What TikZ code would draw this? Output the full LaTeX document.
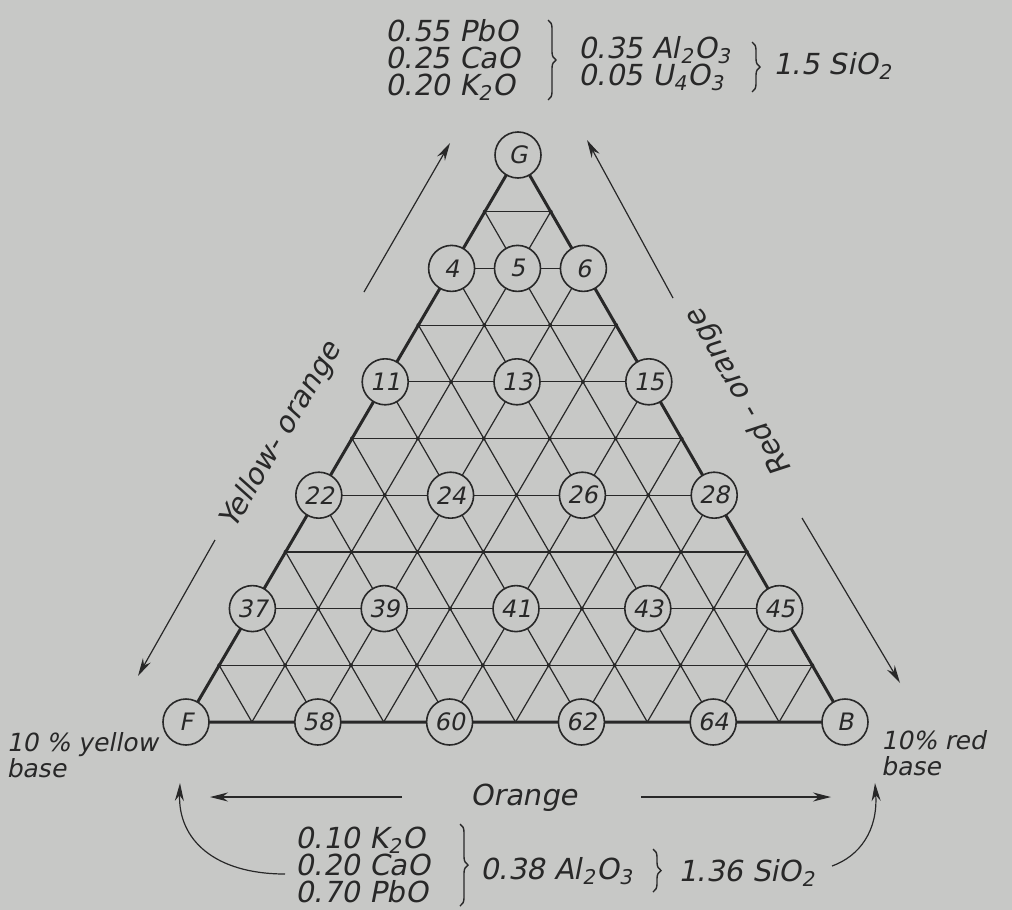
\documentclass[tikz,border=0pt]{standalone}
\usepackage{fontspec}
\newfontfamily\handfont{DejaVu Sans}[FakeSlant=0.2]
\usetikzlibrary{positioning,arrows.meta,decorations.pathreplacing}
\definecolor{paper}{RGB}{199,200,198}
\definecolor{ink}{RGB}{40,40,40}
\newcommand{\chemsub}[1]{\textsubscript{#1}}
\tikzset{
  hand/.style={font=\handfont\fontsize{14.5}{13.5}\selectfont, text=ink, inner sep=0pt},
  small hand/.style={hand, font=\handfont\fontsize{12.5}{13}\selectfont},
  mix/.style={circle, draw=ink, line width=0.8pt, fill=paper, minimum size=23pt, inner sep=0pt,
    font=\handfont\fontsize{12}{12}\selectfont, text=ink},
  grid line/.style={ink, line width=0.6pt},
  rim/.style={ink, line width=1.5pt, line join=round},
  arr/.style={ink, line width=0.6pt, -{Stealth[length=9pt,width=4.5pt]}},
  curly/.style={ink, line width=0.7pt, decorate, decoration={brace, amplitude=4pt}}
}
\begin{document}
\begin{tikzpicture}[x=0.5pt, y=-0.5pt, node distance=2.5cm]
\fill[paper] (0,0) rectangle (1012,910);
\useasboundingbox (0,0) rectangle (1012,910);

\foreach \i in {0,...,10}
  \foreach \j in {0,...,\i}
    \coordinate (p\i-\j) at ({518-33.2*\i+65.9*\j}, {155+56.7*\i});

\foreach \k [evaluate=\k as \m using int(10-\k)] in {1,...,9} {
  \draw[grid line] (p\k-0) -- (p\k-\k);
  \draw[grid line] (p\k-\k) -- (p10-\k);
  \draw[grid line] (p\k-0) -- (p10-\m);
}
\foreach \i in {1,...,9}
  \foreach \j in {0,...,\i}
    \fill[ink] (p\i-\j) circle (2);
\draw[rim] (p0-0) -- (p10-0) -- (p10-10) -- cycle;

\foreach \i/\j/\lab in {0/0/G, 2/0/4, 2/1/5, 2/2/6, 4/0/11, 4/2/13, 4/4/15,
    6/0/22, 6/2/24, 6/4/26, 6/6/28, 8/0/37, 8/2/39, 8/4/41, 8/6/43, 8/8/45,
    10/0/F, 10/2/58, 10/4/60, 10/6/62, 10/8/64, 10/10/B}
  \node[mix] (n\lab) at (p\i-\j) {\lab};

% top glaze
\node[hand, align=left, anchor=west] (topflux) at (385,60)
  {0.55 PbO\\0.25 CaO\\0.20 K\chemsub{2}O};
\draw[curly] (548,20) -- (548,100);
\node[hand, align=left, anchor=west] (topalu) at (578,64)
  {0.35 Al\chemsub{2}O\chemsub{3}\\0.05 U\chemsub{4}O\chemsub{3}};
\draw[curly] (752,42) -- (752,92);
\node[hand, anchor=west] (topsil) at (773,66) {1.5 SiO\chemsub{2}};

% sides
\node[hand, rotate=59.5] (yellow) at (281,436) {Yellow- orange};
\node[hand, rotate=119.5] (red) at (740,392) {Red - orange};
\coordinate (ya) at (364,292);
\coordinate (yb) at (450,143);
\coordinate (yc) at (215,540);
\coordinate (yd) at (138,676);
\coordinate (ra) at (673,298);
\coordinate (rb) at (587,140);
\coordinate (rc) at (802,518);
\coordinate (rd) at (900,683);
\draw[arr] (ya) -- (yb);
\draw[arr] (yc) -- (yd);
\draw[arr] (ra) -- (rb);
\draw[arr] (rc) -- (rd);

\node[small hand, align=left, below left=5pt and 2pt of nF.west] (yellowbase) {10 \% yellow\\base};
\node[small hand, align=left, below right=4pt and 6pt of nB.east] (redbase) {10\% red\\base};

% bottom
\node[hand] (orange) at (524,798) {Orange};
\coordinate (oa) at (402,797);
\coordinate (ob) at (210,797);
\coordinate (oc) at (641,797);
\coordinate (od) at (831,797);
\draw[arr] (oa) -- (ob);
\draw[arr] (oc) -- (od);

\node[hand, align=left, anchor=west] (botflux) at (295,865)
  {0.10 K\chemsub{2}O\\0.20 CaO\\0.70 PbO};
\draw[curly] (460,824) -- (460,906);
\node[hand, anchor=west] (botalu) at (480,871) {0.38 Al\chemsub{2}O\chemsub{3}};
\draw[curly] (653,849) -- (653,892);
\node[hand, anchor=west] (botsil) at (678,873) {1.36 SiO\chemsub{2}};

\coordinate (cl) at (285,874);
\coordinate (ft) at (180,783);
\coordinate (cr) at (832,866);
\coordinate (bt) at (875,783);
\draw[arr] (cl) .. controls (215,874) and (178,840) .. (ft);
\draw[arr] (cr) .. controls (860,856) and (878,830) .. (bt);
\end{tikzpicture}
\end{document}
